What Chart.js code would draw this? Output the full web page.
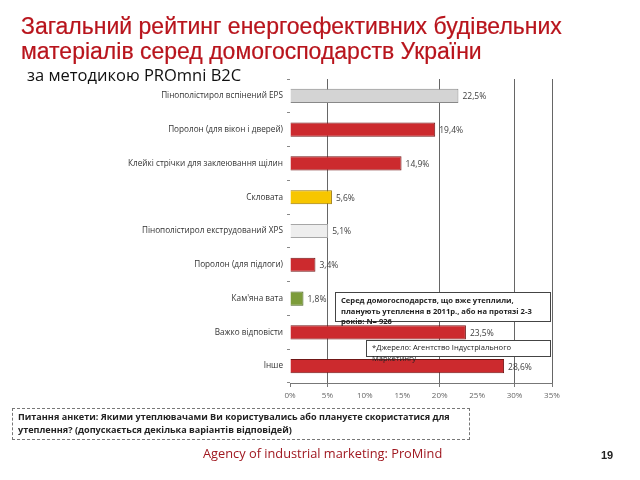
<!DOCTYPE html>
<html>
<head>
<meta charset="utf-8">
<script src="https://cdn.jsdelivr.net/npm/chart.js@4"></script>
<style>
html,body{margin:0;padding:0;background:#fff;}
#wrap{position:relative;width:640px;height:480px;overflow:hidden;font-family:"Liberation Sans",Arial,sans-serif;}
canvas{position:absolute;left:0;top:0;}
.abs{position:absolute;white-space:nowrap;}
#t1{left:21px;top:14px;font-size:23px;line-height:25px;color:#b8141c;-webkit-text-stroke:0.2px #b8141c;}
#sub{left:27px;top:63px;font-family:"Open Sans",sans-serif;font-size:16.5px;color:#111;}
#b1{left:335px;top:292px;width:216px;height:30px;border:1px solid #444;background:#fff;font-family:"Open Sans",sans-serif;font-weight:bold;font-size:7.6px;line-height:10.5px;color:#222;padding:2px 0 0 5px;box-sizing:border-box;overflow:visible;}
#b2{left:366px;top:340px;width:185px;height:17px;border:1px solid #444;background:#fff;font-family:"Open Sans",sans-serif;font-size:7.6px;line-height:10.5px;color:#222;padding:1px 0 0 5px;box-sizing:border-box;overflow:visible;}
#q{left:12px;top:408px;width:458px;height:32px;border:1px dashed #777;font-family:"Open Sans",sans-serif;font-weight:bold;font-size:9.1px;line-height:12.5px;color:#222;padding:2px 0 0 5px;box-sizing:border-box;}
#ag{left:203px;top:444px;font-family:"Open Sans",sans-serif;font-size:12.8px;color:#a01820;}
#pg{left:601px;top:449px;font-weight:bold;font-size:11px;color:#222;}
</style>
</head>
<body>
<div id="wrap">
<canvas id="c" width="640" height="480"></canvas>
<div class="abs" id="t1">Загальний рейтинг енергоефективних будівельних<br>матеріалів серед домогосподарств України</div>
<div class="abs" id="sub">за методикою PROmni B2C</div>
<div class="abs" id="b1">Серед домогосподарств, що вже утеплили,<br>планують утеплення в 2011р., або на протязі 2-3<br>років: N= 926</div>
<div class="abs" id="b2">*Джерело: Агентство Індустріального<br>Маркетингу</div>
<div class="abs" id="q">Питання анкети: Якими утеплювачами Ви користувались або плануєте скористатися для<br>утеплення? (допускається декілька варіантів відповідей)</div>
<div class="abs" id="ag">Agency of industrial marketing: ProMind</div>
<div class="abs" id="pg">19</div>
</div>
<script>
const categories = [
  "Пінополістирол вспінений EPS",
  "Поролон (для вікон і дверей)",
  "Клейкі стрічки для заклеювання щілин",
  "Скловата",
  "Пінополістирол екструдований XPS",
  "Поролон (для підлоги)",
  "Кам'яна вата",
  "Важко відповісти",
  "Інше"
];
const values = [22.5, 19.4, 14.9, 5.6, 5.1, 3.4, 1.8, 23.5, 28.6];
const xTicks = [0, 5, 10, 15, 20, 25, 30, 35];
const gridAt = [5, 20, 30, 35];
const tickAt = [0, 5, 20, 30, 35];

const palette = {
  red: ["#e87070", "#cc2a2e", "#8a1214", "#701616"],
  gray: ["#f4f4f4", "#d4d4d4", "#a4a4a4", "#888888"],
  light: ["#ffffff", "#eeeeee", "#c6c6c6", "#a6a6a6"],
  yellow: ["#ffec70", "#f7c600", "#c49400", "#987400"],
  green: ["#afc869", "#7c9c3a", "#52701e", "#46601c"]
};
const barKinds = ["gray","red","red","yellow","light","red","green","red","red"];

function grad(ctx, kind){
  const el = ctx.element;
  const p = palette[kind];
  if(!el || el.base === undefined) return p[1];
  const h = el.height || 13;
  const g = ctx.chart.ctx.createLinearGradient(0, el.y - h/2, 0, el.y + h/2);
  g.addColorStop(0, p[0]); g.addColorStop(0.3, p[1]); g.addColorStop(1, p[2]);
  return g;
}

const labelPlugin = {
  id: 'vals',
  afterDatasetsDraw(chart){
    const ctx = chart.ctx;
    const meta = chart.getDatasetMeta(0);
    ctx.save();
    ctx.font = '8.5px "Open Sans", sans-serif';
    ctx.fillStyle = '#404040';
    ctx.textBaseline = 'middle';
    meta.data.forEach((bar, i) => {
      ctx.fillText(values[i].toFixed(1).replace('.', ',') + '%', bar.x + 4, bar.y + 1);
    });
    ctx.restore();
  }
};

new Chart(document.getElementById('c'), {
  type: 'bar',
  data: {
    labels: categories,
    datasets: [{
      data: values,
      backgroundColor: (ctx) => grad(ctx, barKinds[ctx.dataIndex]),
      borderColor: (ctx) => palette[barKinds[ctx.dataIndex]][3],
      borderWidth: 1,
      categoryPercentage: 1,
      barPercentage: 0.42
    }]
  },
  options: {
    indexAxis: 'y',
    responsive: false,
    animation: false,
    layout: { padding: { left: 0, right: 88, top: 79, bottom: 0 } },
    plugins: { legend: { display: false }, tooltip: { enabled: false } },
    scales: {
      x: {
        min: 0, max: 35,
        afterBuildTicks(scale){ scale.ticks = xTicks.map(v => ({ value: v })); },
        afterFit(scale){ scale.height = 97; },
        border: { display: true, color: '#777' },
        grid: {
          color: (c) => gridAt.includes(c.tick && c.tick.value) ? '#666' : 'rgba(0,0,0,0)',
          tickColor: (c) => tickAt.includes(c.tick && c.tick.value) ? '#777' : 'rgba(0,0,0,0)',
          tickLength: 4
        },
        ticks: {
          callback: (v) => v + '%',
          color: '#666',
          padding: 4,
          font: { family: '"Open Sans", sans-serif', size: 8 }
        }
      },
      y: {
        afterFit(scale){ scale.width = 290; },
        border: { display: false },
        grid: { drawOnChartArea: false, tickLength: 3, color: '#888' },
        ticks: {
          color: '#333',
          padding: 4,
          font: { family: '"Open Sans", sans-serif', size: 8.2 }
        }
      }
    }
  },
  plugins: [labelPlugin]
});
</script>
</body>
</html>
